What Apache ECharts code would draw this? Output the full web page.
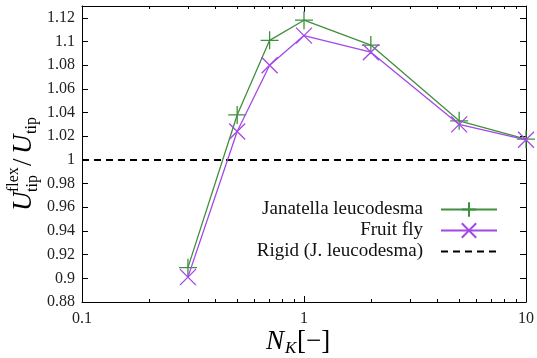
<!DOCTYPE html>
<html><head><meta charset="utf-8">
<script src="https://cdn.jsdelivr.net/npm/echarts@6/dist/echarts.min.js"></script>
<style>html,body{margin:0;padding:0;background:#fff}#c{width:537px;height:358px}</style>
</head><body><div id="c"></div>
<script>
const xValues = [0.3, 0.5, 0.7, 1, 2, 5, 10];
const janatella = [0.909, 1.038, 1.101, 1.118, 1.097, 1.033, 1.0175];
const fruitFly = [0.901, 1.024, 1.080, 1.105, 1.091, 1.030, 1.017];
const rigidX = [0.1, 10];
const rigidY = [1, 1];
const seriesNames = ['Janatella leucodesma', 'Fruit fly', 'Rigid (J. leucodesma)'];

const FONT = 'Liberation Serif';
const GREEN = '#3f8f3f';
const PURPLE = '#a347e6';
const plusPath = 'path://M10,0 L10,20 M0,10 L20,10';
const crossPath = 'path://M0,0 L20,20 M0,20 L20,0';

const chart = echarts.init(document.getElementById('c'), null, {renderer: 'canvas'});
const pairs = (xs, ys) => xs.map((x, i) => [x, ys[i]]);

const yFmt = v => String(Math.round(v * 100) / 100);

chart.setOption({
  animation: false,
  backgroundColor: '#fff',
  grid: {left: 82, top: 6, right: 9, bottom: 56, containLabel: false},
  xAxis: [{
    type: 'log', min: 0.1, max: 10, logBase: 10,
    axisLine: {show: true, lineStyle: {color: '#000', width: 1}},
    axisTick: {show: true, inside: true, length: 6, lineStyle: {color: '#000'}},
    minorTick: {show: true, splitNumber: 9, length: 3, lineStyle: {color: '#000'}},
    splitLine: {show: false},
    axisLabel: {fontFamily: FONT, fontSize: 16, color: '#222', margin: 9},
  }, {
    type: 'log', min: 0.1, max: 10, position: 'top',
    axisLine: {show: true, lineStyle: {color: '#000', width: 1}},
    axisTick: {show: true, inside: true, length: 6, lineStyle: {color: '#000'}},
    minorTick: {show: true, splitNumber: 9, length: 3, lineStyle: {color: '#000'}},
    splitLine: {show: false},
    axisLabel: {show: false},
  }],
  yAxis: [{
    type: 'value', min: 0.88, max: 1.13, interval: 0.02,
    axisLine: {show: true, lineStyle: {color: '#000', width: 1}},
    axisTick: {show: true, inside: true, length: 6, lineStyle: {color: '#000'}},
    splitLine: {show: false},
    axisLabel: {fontFamily: FONT, fontSize: 16, color: '#222', margin: 7, formatter: yFmt, showMaxLabel: false},
  }, {
    type: 'value', min: 0.88, max: 1.13, interval: 0.02, position: 'right',
    axisLine: {show: true, lineStyle: {color: '#000', width: 1}},
    axisTick: {show: true, inside: true, length: 6, lineStyle: {color: '#000'}},
    splitLine: {show: false},
    axisLabel: {show: false},
  }],
  legend: {
    orient: 'vertical', right: 34, top: 195, align: 'right',
    itemWidth: 56, itemHeight: 18, itemGap: 2,
    textStyle: {fontFamily: FONT, fontSize: 19, color: '#111', padding: [0, 13, 0, 0]},
    data: [
      {name: seriesNames[0]},
      {name: seriesNames[1]},
      {name: seriesNames[2], itemStyle: {opacity: 0}},
    ],
  },
  series: [{
    name: seriesNames[0], type: 'line', data: pairs(xValues, janatella),
    symbol: plusPath, symbolSize: 18,
    lineStyle: {color: GREEN, width: 1.3},
    itemStyle: {color: GREEN, borderColor: GREEN, borderWidth: 1.3},
    z: 3,
  }, {
    name: seriesNames[1], type: 'line', data: pairs(xValues, fruitFly),
    symbol: crossPath, symbolSize: 16,
    lineStyle: {color: PURPLE, width: 1.3},
    itemStyle: {color: PURPLE, borderColor: PURPLE, borderWidth: 1.3},
    z: 4,
  }, {
    name: seriesNames[2], type: 'line', data: pairs(rigidX, rigidY),
    symbol: 'none', showSymbol: false,
    lineStyle: {color: '#000', width: 2, type: [7, 5]},
    itemStyle: {color: '#000'},
    z: 2,
  }],
  graphic: [{
    type: 'group', x: 24, y: 211, rotation: Math.PI / 2,
    children: [
      {type: 'text', x: 0, y: 0, style: {text: 'U', font: 'italic 27px ' + FONT, fill: '#000', verticalAlign: 'middle'}},
      {type: 'text', x: 19, y: -10, style: {text: 'flex', font: '16px ' + FONT, fill: '#000', verticalAlign: 'middle'}},
      {type: 'text', x: 19, y: 9, style: {text: 'tip', font: '16px ' + FONT, fill: '#000', verticalAlign: 'middle'}},
      {type: 'text', x: 45, y: 0, style: {text: '/', font: '27px ' + FONT, fill: '#000', verticalAlign: 'middle'}},
      {type: 'text', x: 57, y: 0, style: {text: 'U', font: 'italic 27px ' + FONT, fill: '#000', verticalAlign: 'middle'}},
      {type: 'text', x: 77, y: 8, style: {text: 'tip', font: '16px ' + FONT, fill: '#000', verticalAlign: 'middle'}},
    ]
  }, {
    type: 'group', x: 266, y: 342,
    children: [
      {type: 'text', x: 0, y: 0, style: {text: 'N', font: 'italic 27px ' + FONT, fill: '#000', verticalAlign: 'middle'}},
      {type: 'text', x: 19, y: 7, style: {text: 'K', font: 'italic 17px ' + FONT, fill: '#000', verticalAlign: 'middle'}},
      {type: 'text', x: 31, y: 0, style: {text: '[−]', font: '27px ' + FONT, fill: '#000', verticalAlign: 'middle'}},
    ]
  }],
});
</script>
</body></html>
